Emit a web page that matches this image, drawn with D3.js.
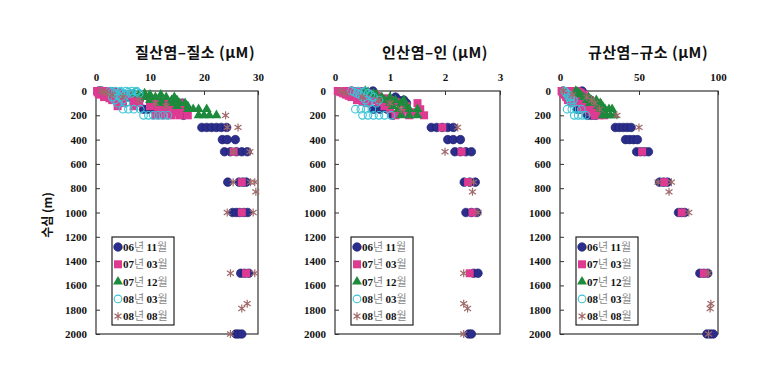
<!DOCTYPE html>
<html><head><meta charset="utf-8">
<script src="https://cdn.jsdelivr.net/npm/d3@7"></script>
<style>body{margin:0;background:#fff;}svg{display:block;}</style>
</head><body>
<svg id="c" width="780" height="388"></svg>
<script>
// ---- data: [depth (m), concentration (µM)] ----
const seriesNames = ["06년 11월","07년 03월","07년 12월","08년 03월","08년 08월"];
const depthTicks = [0,200,400,600,800,1000,1200,1400,1600,1800,2000];
const no3Ticks = [0,10,20,30];
const po4Ticks = [0,1,2,3];
const sio4Ticks = [0,50,100];

const no3_0611 = [[0,0.5],[0,1.0],[10,0.8],[20,1.2],[30,2],[50,4],[50,6],[75,8],[75,10.5],[100,11],[100,13.5],[100,16],[125,12],[150,8.8],[150,9.6],[150,10.5],[200,16.2],[300,19.6],[300,20.5],[300,21.4],[300,22.3],[300,23.2],[300,24.2],[400,23.4],[400,24.3],[400,25.8],[500,23.8],[500,24.9],[500,26],[500,27],[500,28],[750,24.4],[750,26.5],[750,27.2],[750,27.8],[1000,25.3],[1000,26],[1000,26.6],[1000,27.4],[1000,28.1],[1500,26.8],[1500,27.5],[1500,28.3],[2000,25.9],[2000,26.4],[2000,27]];
const no3_0703 = [[0,0.2],[0,0.8],[0,1.5],[0,2.5],[5,0.5],[5,1.8],[5,3.2],[10,0.3],[10,1],[10,2],[10,3],[15,1],[15,2.5],[15,4],[20,0.5],[20,1.5],[20,2.8],[20,4],[30,0.8],[30,2],[30,3.5],[30,5],[40,1.5],[40,3.5],[40,6],[50,1.5],[50,3],[50,5],[50,7],[60,2.5],[60,5],[60,8],[75,3],[75,5],[75,7.5],[75,10],[90,4],[90,7],[90,10],[90,13],[100,5],[100,8],[100,11],[100,14],[100,15.5],[125,4],[125,7],[125,10],[125,12.5],[125,14],[150,11.5],[150,13],[150,14.5],[150,16],[175,12],[175,15],[200,11],[200,12.5],[200,14],[200,15.5],[200,17],[500,25.5],[750,27],[1000,27],[1500,27.8]];
const no3_0712 = [[20,7],[20,9],[30,8],[30,10],[30,12],[50,9],[50,11],[50,13],[50,14.5],[75,10],[75,12],[75,14],[75,15],[100,12],[100,14],[100,15.5],[100,16.5],[125,15],[125,17],[150,17],[150,18],[150,19],[150,20.5],[200,19],[200,20],[200,21],[200,22.3]];
const no3_0803 = [[0,2.6],[0,3.6],[0,4.6],[0,5.6],[0,6.6],[0,7.5],[10,3],[10,4.5],[10,6],[10,7.5],[20,3.5],[20,5],[20,6.5],[20,8],[30,4],[30,5.5],[50,3],[50,4.5],[75,3.5],[75,5],[100,4],[100,5.5],[150,5],[150,6],[150,7],[150,8.2],[200,8.8],[200,9.7],[200,10.6],[200,11.5],[200,12.4],[200,13.3]];
const no3_0808 = [[0,1],[10,1.5],[20,2],[30,3],[50,5],[75,8],[100,11],[125,13],[200,24],[300,24.3],[300,26.3],[500,25.4],[500,28.5],[750,25.4],[750,28.6],[750,29.4],[830,29.6],[1000,24.3],[1000,29.1],[1500,24.9],[1500,29.4],[1750,28],[1790,27],[2000,24.9]];

const po4_0611 = [[0,0.69],[0,0.3],[10,0.35],[20,0.4],[30,0.5],[50,0.8],[50,1.1],[75,1.15],[75,1.25],[100,1.3],[100,1.0],[150,0.7],[150,0.82],[150,0.95],[200,1.05],[300,1.75],[300,1.85],[300,1.95],[300,2.05],[300,2.15],[400,2.05],[400,2.15],[400,2.28],[500,2.18],[500,2.28],[500,2.38],[500,2.48],[750,2.35],[750,2.45],[750,2.55],[1000,2.38],[1000,2.48],[1000,2.58],[1500,2.52],[1500,2.6],[2000,2.43],[2000,2.48]];
const po4_0703 = [[0,0.05],[0,0.2],[0,0.35],[0,0.5],[5,0.1],[5,0.3],[5,0.55],[10,0.1],[10,0.3],[10,0.5],[15,0.2],[15,0.45],[20,0.15],[20,0.35],[20,0.6],[30,0.2],[30,0.45],[30,0.7],[40,0.25],[40,0.5],[40,0.75],[50,0.3],[50,0.55],[50,0.8],[60,0.4],[60,0.65],[60,0.9],[75,0.4],[75,0.7],[75,1.0],[90,0.5],[90,0.8],[90,1.1],[100,0.6],[100,0.9],[100,1.2],[100,1.5],[125,0.9],[125,1.3],[150,1.0],[150,1.3],[150,1.55],[175,1.2],[175,1.45],[200,1.1],[200,1.35],[200,1.62],[300,1.95],[500,2.3],[750,2.42],[1000,2.5],[1500,2.45]];
const po4_0712 = [[0,0.55],[10,0.6],[20,0.7],[30,0.75],[50,0.85],[50,1.0],[75,0.9],[75,1.1],[75,1.25],[100,1.0],[100,1.2],[125,1.05],[125,1.3],[150,1.15],[150,1.35],[150,1.5],[200,1.2],[200,1.35],[200,1.5]];
const po4_0803 = [[0,0.3],[0,0.42],[0,0.55],[10,0.35],[10,0.5],[20,0.4],[20,0.6],[30,0.45],[30,0.65],[50,0.5],[50,0.7],[75,0.55],[75,0.8],[100,0.6],[100,0.75],[150,0.37],[150,0.47],[150,0.57],[150,0.67],[200,0.5],[200,0.6],[200,0.7],[200,0.8],[200,0.9],[200,1.02]];
const po4_0808 = [[0,0.1],[20,0.2],[50,0.5],[75,0.8],[100,1.0],[150,1.2],[300,2.23],[500,2.0],[750,2.52],[830,2.5],[1000,2.6],[1500,2.34],[1750,2.34],[1790,2.41],[2000,2.34]];

const sio4_0611 = [[0,14],[0,2],[10,3],[20,4],[30,6],[50,9],[75,13],[75,17],[100,16],[150,11],[150,13],[200,17.5],[200,20],[200,22.5],[300,35],[300,37.5],[300,40],[300,42.5],[300,45],[400,41.5],[400,44],[400,46.5],[400,49],[500,48.5],[500,51],[500,53.5],[500,56],[750,63],[750,65.5],[750,68],[1000,75],[1000,77],[1000,79],[1500,88.5],[1500,91],[1500,93.5],[2000,93],[2000,95],[2000,97]];
const sio4_0703 = [[0,1],[0,4],[0,7],[0,10],[5,2],[5,6],[5,11],[10,1.5],[10,5],[10,9],[10,12],[15,3],[15,8],[15,13],[20,2],[20,6],[20,10],[20,13],[30,3],[30,7],[30,11],[30,15],[40,4],[40,9],[40,14],[50,4],[50,8],[50,12],[50,16],[60,5],[60,11],[60,17],[75,5],[75,10],[75,15],[75,19],[90,7],[90,13],[90,19],[100,8],[100,14],[100,20],[100,24],[125,14],[125,20],[150,14],[150,18],[150,22],[150,26],[175,20],[175,25],[200,22],[200,25],[200,28],[500,52],[750,66],[1000,77],[1500,91]];
const sio4_0712 = [[0,10],[10,11],[20,12],[30,13],[50,15],[50,18],[75,17],[75,20],[75,23],[100,19],[100,22],[100,25.5],[125,24],[125,27],[150,25.5],[150,28.5],[150,31],[150,33],[200,27],[200,29.5],[200,32],[200,34.5]];
const sio4_0803 = [[0,3],[10,3.5],[20,4],[30,5],[50,5.5],[50,7],[75,6.5],[75,8.5],[100,7],[150,4.5],[150,7.5],[150,10.5],[150,13.5],[200,9],[200,11.5],[200,14],[200,16.5]];
const sio4_0808 = [[0,2],[30,8],[50,17],[75,20],[100,22],[150,25],[200,36],[300,50],[750,62],[750,70.5],[830,69],[1000,81.5],[1500,94],[1750,95.5],[1790,95],[2000,94]];

// ---- layout / style ----
const panels = [
  {title:"질산염–질소 (μM)", dom:[0,30], ticks:no3Ticks, x0:96, x1:258, tx:195, series:[no3_0611,no3_0703,no3_0712,no3_0803,no3_0808]},
  {title:"인산염–인 (μM)", dom:[0,3], ticks:po4Ticks, x0:335, x1:500, tx:435, series:[po4_0611,po4_0703,po4_0712,po4_0803,po4_0808]},
  {title:"규산염–규소 (μM)", dom:[0,100], ticks:sio4Ticks, x0:560, x1:718, tx:648, series:[sio4_0611,sio4_0703,sio4_0712,sio4_0803,sio4_0808]}
];
const Y0 = 91, Y1 = 334;
const svg = d3.select("#c");
const y = d3.scaleLinear().domain([0,2000]).range([Y0,Y1]);
const serif = "'Liberation Serif','DejaVu Serif',serif";
const kfont = "'Noto Sans CJK KR','Noto Sans',sans-serif";

function drawMarker(g, k, cx, cy){
  if(k===0){ g.append("circle").attr("cx",cx).attr("cy",cy).attr("r",4.3).attr("fill","#2b2e8c").attr("stroke","#1b1d66").attr("stroke-width",0.6); }
  else if(k===1){ g.append("rect").attr("x",cx-4).attr("y",cy-4).attr("width",8).attr("height",8).attr("fill","#de3a91"); }
  else if(k===2){ g.append("path").attr("transform",`translate(${cx},${cy})`).attr("d",d3.symbol(d3.symbolTriangle,42)()).attr("fill","#1d8a3c"); }
  else if(k===3){ g.append("circle").attr("cx",cx).attr("cy",cy).attr("r",3.8).attr("fill","none").attr("stroke","#38c4d6").attr("stroke-width",1.1); }
  else { const s=4; g.append("path").attr("d",`M${cx},${cy-s}V${cy+s}M${cx-s*0.87},${cy-s*0.6}L${cx+s*0.87},${cy+s*0.6}M${cx-s*0.87},${cy+s*0.6}L${cx+s*0.87},${cy-s*0.6}`).attr("stroke","#a06a6a").attr("stroke-width",1.2).attr("fill","none"); }
}

panels.forEach(p=>{
  const x = d3.scaleLinear().domain(p.dom).range([p.x0,p.x1]);
  const g = svg.append("g");
  g.append("text").attr("x",p.tx).attr("y",58).attr("text-anchor","middle")
    .attr("font-family",kfont).attr("font-weight","bold").attr("font-size",15).attr("letter-spacing",0.5).attr("fill","#111").text(p.title);
  const xa = d3.axisTop(x).tickValues(p.ticks).tickSize(-4).tickPadding(10).tickFormat(d3.format("d"));
  const gx = g.append("g").attr("transform",`translate(0,${Y0})`).call(xa);
  gx.select(".domain").remove();
  gx.selectAll("line").attr("stroke","#333");
  gx.selectAll("text").attr("font-family",serif).attr("font-weight","bold").attr("font-size",11).attr("fill","#111");
  const ya = d3.axisLeft(y).tickValues(depthTicks).tickSize(-4).tickPadding(9).tickFormat(d3.format("d"));
  const gy = g.append("g").attr("transform",`translate(${p.x0},0)`).call(ya);
  gy.select(".domain").remove();
  gy.selectAll("line").attr("stroke","#333");
  gy.selectAll("text").attr("font-family",serif).attr("font-weight","bold").attr("font-size",11).attr("fill","#111");
  g.append("rect").attr("x",p.x0).attr("y",Y0).attr("width",p.x1-p.x0).attr("height",Y1-Y0)
    .attr("fill","none").attr("stroke","#333").attr("stroke-width",1.2);
  const dg = g.append("g");
  p.series.forEach((s,k)=>{ s.forEach(d=>drawMarker(dg,k,x(d[1]),y(d[0]))); });
  const lx = p.x0+16, ly = 237;
  g.append("rect").attr("x",lx).attr("y",ly).attr("width",62).attr("height",88).attr("fill","#fff").attr("stroke","#222").attr("stroke-width",1.2);
  seriesNames.forEach((nm,k)=>{
    const cy = ly+10+k*17.3;
    drawMarker(g,k,lx+6,cy);
    const parts = nm.match(/(\d+)(년) (\d+)(월)/);
    const t = g.append("text").attr("x",lx+11).attr("y",cy+4).attr("font-size",11);
    t.append("tspan").attr("font-family",serif).attr("font-weight","bold").attr("fill","#111").text(parts[1]);
    t.append("tspan").attr("font-family",kfont).attr("fill","#888").text(parts[2]+" ");
    t.append("tspan").attr("font-family",serif).attr("font-weight","bold").attr("fill","#111").text(parts[3]);
    t.append("tspan").attr("font-family",kfont).attr("fill","#888").text(parts[4]);
  });
});
svg.append("text").attr("transform","translate(52,215) rotate(-90)").attr("text-anchor","middle")
  .attr("font-family",kfont).attr("font-weight","bold").attr("font-size",12).attr("fill","#111").text("수심 (m)");
</script>
</body></html>
